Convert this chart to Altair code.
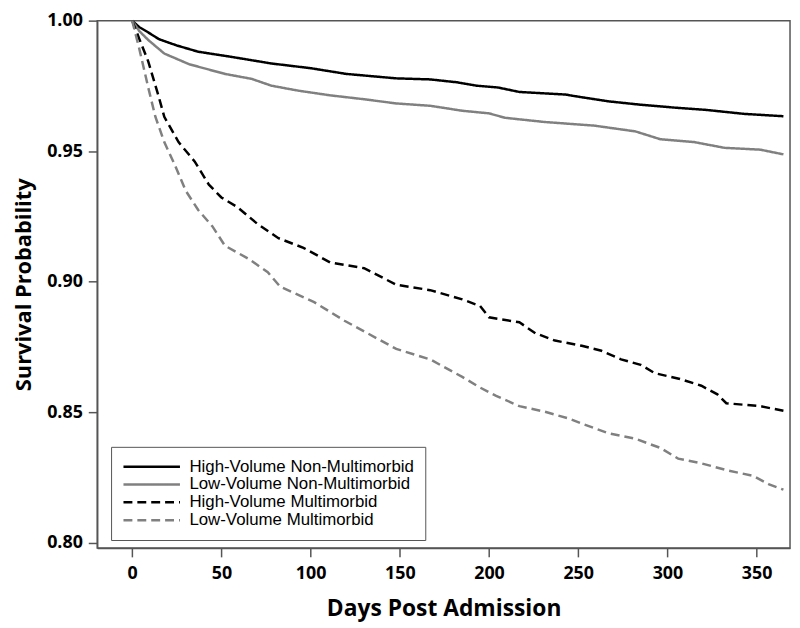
import altair as alt
import pandas as pd

groups = ["High-Volume Non-Multimorbid", "Low-Volume Non-Multimorbid",
          "High-Volume Multimorbid", "Low-Volume Multimorbid"]

hv_nm_days = [0, 4, 9, 15, 25, 37, 55, 78, 100, 120, 148, 167, 182, 193, 205, 217, 243, 248, 267, 285, 304, 322, 343, 365]
hv_nm_surv = [1.0, 0.9975, 0.9955, 0.9929, 0.9905, 0.9881, 0.9862, 0.9836, 0.9818, 0.9796, 0.9779, 0.9775, 0.9764, 0.9751, 0.9744, 0.9727, 0.9717, 0.9711, 0.9691, 0.9678, 0.9667, 0.9658, 0.9643, 0.9634]

lv_nm_days = [0, 4, 9, 18, 32, 52, 67, 78, 93, 111, 130, 148, 167, 185, 200, 209, 231, 259, 282, 296, 315, 332, 352, 365]
lv_nm_surv = [1.0, 0.9960, 0.9926, 0.9874, 0.9833, 0.9796, 0.9777, 0.9751, 0.9732, 0.9714, 0.9699, 0.9683, 0.9674, 0.9655, 0.9645, 0.9628, 0.9612, 0.9598, 0.9576, 0.9546, 0.9535, 0.9513, 0.9506, 0.9488]

hv_mm_days = [0, 4, 9, 15, 18, 26, 35, 43, 50, 59, 70, 82, 96, 111, 130, 148, 167, 185, 195, 200, 217, 226, 237, 252, 263, 274, 285, 293, 307, 319, 328, 333, 352, 365]
hv_mm_surv = [1.0, 0.9930, 0.9844, 0.9706, 0.9632, 0.9535, 0.9461, 0.9372, 0.9323, 0.9286, 0.9223, 0.9167, 0.9130, 0.9074, 0.9052, 0.8989, 0.8968, 0.8933, 0.8907, 0.8864, 0.8845, 0.8803, 0.8775, 0.8755, 0.8736, 0.8703, 0.8682, 0.8650, 0.8628, 0.8602, 0.8569, 0.8535, 0.8524, 0.8506]

lv_mm_days = [0, 4, 9, 13, 18, 24, 30, 37, 45, 52, 65, 76, 83, 102, 119, 130, 148, 167, 185, 195, 204, 217, 231, 245, 252, 267, 282, 296, 306, 319, 333, 348, 357, 365]
lv_mm_surv = [1.0, 0.9892, 0.9744, 0.9632, 0.9535, 0.9446, 0.9349, 0.9275, 0.9212, 0.9138, 0.9089, 0.9037, 0.8981, 0.8922, 0.8851, 0.8810, 0.8743, 0.8703, 0.8636, 0.8595, 0.8563, 0.8524, 0.8503, 0.8476, 0.8457, 0.8420, 0.8399, 0.8364, 0.8323, 0.8305, 0.8279, 0.8257, 0.8224, 0.8204]

series = [(groups[0], hv_nm_days, hv_nm_surv), (groups[1], lv_nm_days, lv_nm_surv),
          (groups[2], hv_mm_days, hv_mm_surv), (groups[3], lv_mm_days, lv_mm_surv)]
rows = []
for name, ds, ss in series:
    for d, s in zip(ds, ss):
        rows.append({"group": name, "day": d, "surv": s})
df = pd.DataFrame(rows)

AXIS_FONT = "Open Sans"
GRAY = "#555555"

chart = alt.Chart(df).mark_line(strokeWidth=2.5, clip=False).encode(
    x=alt.X("day:Q", scale=alt.Scale(domain=[-19.6, 368.7], nice=False, zero=False),
            axis=alt.Axis(title="Days Post Admission", values=[0, 50, 100, 150, 200, 250, 300, 350],
                          grid=False, tickSize=9, labelPadding=8, titlePadding=15,
                          labelFontSize=18, titleFontSize=23)),
    y=alt.Y("surv:Q", scale=alt.Scale(domain=[0.7981, 1.0], nice=False, zero=False),
            axis=alt.Axis(title="Survival Probability", values=[0.80, 0.85, 0.90, 0.95, 1.00],
                          format=".2f", grid=False, tickSize=9, labelPadding=6, titlePadding=11,
                          labelFontSize=18, titleFontSize=22)),
    color=alt.Color("group:N", scale=alt.Scale(domain=groups,
                    range=["#000000", "#808080", "#000000", "#808080"]),
                    legend=alt.Legend(title=None, orient="none", legendX=14, legendY=430,
                                      symbolType="stroke", symbolSize=3249, symbolStrokeWidth=2.5,
                                      clipHeight=18, rowPadding=0, labelOffset=8,
                                      labelFont="Liberation Sans", labelFontSize=17,
                                      labelColor="#000000", labelLimit=400,
                                      strokeColor=GRAY, fillColor="white", padding=11)),
    strokeDash=alt.StrokeDash("group:N", scale=alt.Scale(domain=groups,
                    range=[[1, 0], [1, 0], [9, 5], [9, 5]]), legend=None),
    order=alt.Order("day:Q"),
).properties(
    width=699, height=532,
    autosize=alt.AutoSizeParams(type="none"),
    padding={"left": 90, "top": 10, "right": 2, "bottom": 76},
).configure_view(
    stroke=GRAY, strokeWidth=1.5
).configure_axis(
    domainColor=GRAY, tickColor=GRAY, domainWidth=1.5, tickWidth=1.5,
    labelFont=AXIS_FONT, titleFont=AXIS_FONT, labelFontWeight="bold", titleFontWeight="bold",
    labelColor="#000000", titleColor="#000000"
)

chart.save("out.html", embed_options={"renderer": "svg", "actions": False})
